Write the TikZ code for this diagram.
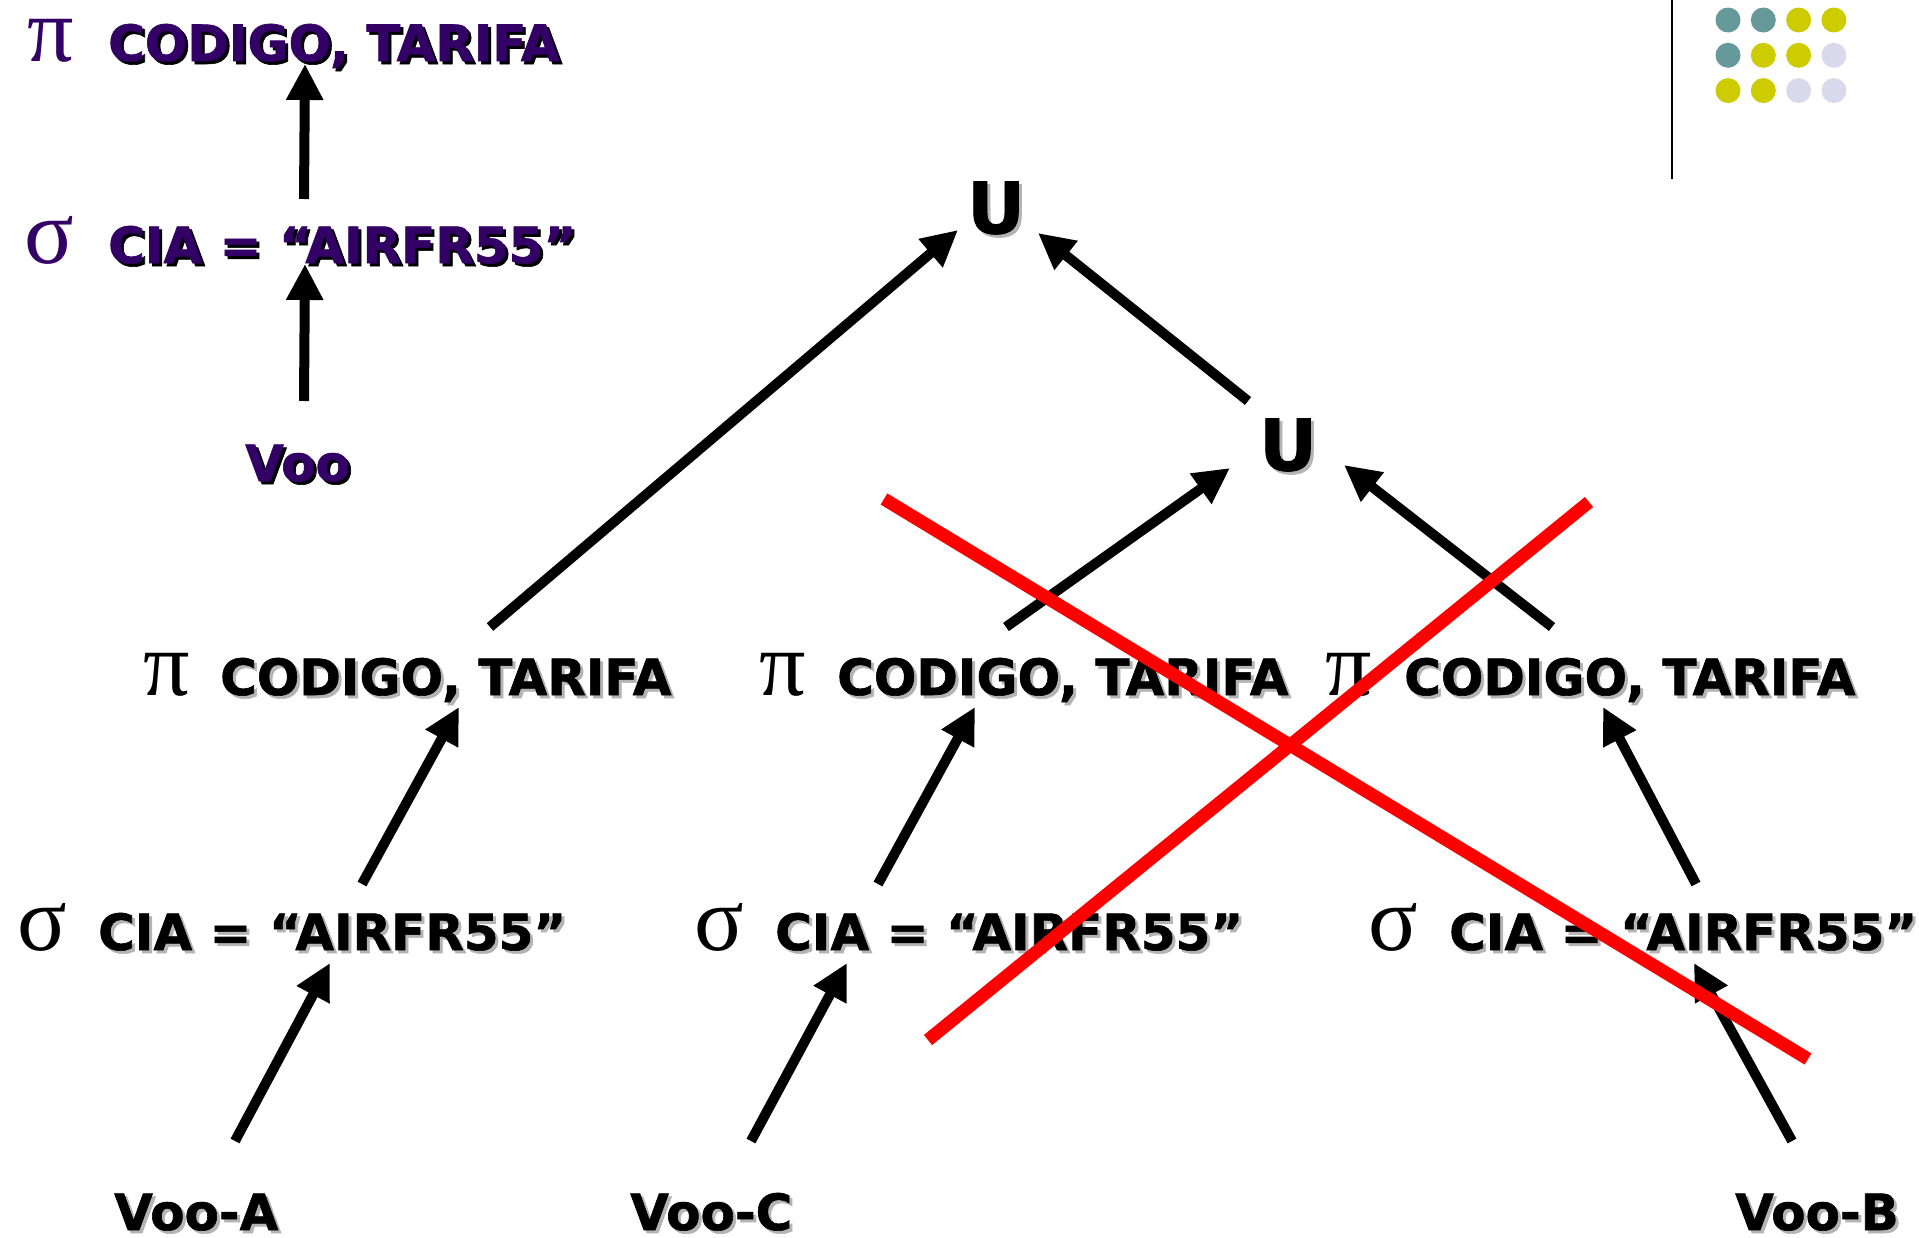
\documentclass[tikz,border=0pt]{standalone}
\usepackage{fontspec}
\setmainfont{DejaVu Sans}[BoldFeatures={FakeBold=1.2}]
\newfontfamily\greekfont{Liberation Serif}
\usetikzlibrary{arrows.meta,calc}

\definecolor{plum}{HTML}{330066}
\definecolor{shade}{HTML}{B4B4B4}
\definecolor{dotteal}{HTML}{669999}
\definecolor{dotlime}{HTML}{CCCC00}
\definecolor{dotlilac}{HTML}{D9D9EC}

% text with a drop shadow offset down and to the right
\newcommand\shadowed[2]{\rlap{\smash{\kern3pt\raisebox{-3pt}{\textcolor{#1}{#2}}}}#2}

\tikzset{
  lbl/.style={inner sep=0pt, anchor=base west, font=\bfseries\fontsize{50}{60}\selectfont},
  grk/.style={inner sep=0pt, anchor=base west, text height=44pt, text depth=0pt,
              font=\greekfont\fontsize{92}{100}\selectfont},
  unionop/.style={inner sep=0pt, font=\bfseries\fontsize{71}{80}\selectfont},
  arr/.style={line width=10pt, -{Triangle[length=36pt,width=35pt]}},
  cross/.style={draw=red, line width=13pt},
}

\begin{document}
\begin{tikzpicture}[x=1pt, y=-1pt]
\useasboundingbox (0,0) rectangle (1919,1237);

% ---- single-relation plan (top left) ----
\node[grk, text=plum] (g1) at (27,61) {π};
\node[lbl, text=plum] (t1) at (108,61) {\shadowed{black}{CODIGO, TARIFA}};
\node[grk, text=plum] (g2) at (24,263) {σ};
\node[lbl, text=plum] (t2) at (108,263) {\shadowed{black}{CIA = “AIRFR55”}};
\node[lbl, text=plum] (t3) at (245,481) {\shadowed{black}{Voo}};

\draw[arr] ($(t3.base west)+(59,-80)$) -- ($(t2.base west)+(197,1)$);
\draw[arr] ($(t2.base west)+(196,-64)$) -- ($(t1.base west)+(197,3)$);

% ---- union operators ----
\node[unionop] (u1) at (996,208) {\shadowed{shade}{U}};
\node[unionop] (u2) at (1288,445) {\shadowed{shade}{U}};

% ---- projections ----
\node[grk] (gpL) at (143,695) {π};
\node[lbl] (pL) at (220,695) {\shadowed{shade}{CODIGO, TARIFA}};
\node[grk] (gpM) at (759,695) {π};
\node[lbl] (pM) at (837,695) {\shadowed{shade}{CODIGO, TARIFA}};
\node[grk] (gpR) at (1325,695) {π};
\node[lbl] (pR) at (1404,695) {\shadowed{shade}{CODIGO, TARIFA}};

% ---- selections ----
\node[grk] (gsL) at (17,950) {σ};
\node[lbl] (sL) at (98,950) {\shadowed{shade}{CIA = “AIRFR55”}};
\node[grk] (gsM) at (694,950) {σ};
\node[lbl] (sM) at (775,950) {\shadowed{shade}{CIA = “AIRFR55”}};
\node[grk] (gsR) at (1368,950) {σ};
\node[lbl] (sR) at (1449,950) {\shadowed{shade}{CIA = “AIRFR55”}};

% ---- fragments ----
\node[lbl] (vA) at (114,1230) {\shadowed{shade}{Voo-A}};
\node[lbl] (vC) at (630,1230) {\shadowed{shade}{Voo-C}};
\node[lbl] (vB) at (1735,1230) {\shadowed{shade}{Voo-B}};

% ---- edges ----
\draw[arr] ($(vA.base west)+(121,-89)$) -- ($(sL.base west)+(232,13)$);
\draw[arr] ($(sL.base west)+(264,-66)$) -- ($(pL.base west)+(239,12)$);
\draw[arr] ($(vC.base west)+(121,-89)$) -- ($(sM.base west)+(72,13)$);
\draw[arr] ($(sM.base west)+(103,-66)$) -- ($(pM.base west)+(138,12)$);
\draw[arr] ($(vB.base west)+(57,-89)$) -- ($(sR.base west)+(245,13)$);
\draw[arr] ($(sR.base west)+(247,-66)$) -- ($(pR.base west)+(199,12)$);
\draw[arr] ($(pL.base west)+(270,-68)$) -- ($(u1)+(-38,22)$);
\draw[arr] ($(pM.base west)+(169,-68)$) -- ($(u2)+(-58,23)$);
\draw[arr] ($(pR.base west)+(148,-68)$) -- ($(u2)+(56,20)$);
\draw[arr] ($(u2)+(-40,-44)$) -- ($(u1)+(42,25)$);

% ---- crossed-out branch ----
\draw[cross] (884,499) -- (1808,1059);
\draw[cross] (928,1040) -- (1589,502);

% ---- corner decoration ----
\draw[line width=2.5pt] (1672,0) -- (1672,179);
\foreach \c [count=\i from 0] in {dotteal,dotteal,dotlime,dotlime,
                                  dotteal,dotlime,dotlime,dotlilac,
                                  dotlime,dotlime,dotlilac,dotlilac}{
  \pgfmathtruncatemacro\col{mod(\i,4)}
  \pgfmathtruncatemacro\row{div(\i,4)}
  \fill[\c] ({1728+35.3*\col},{20+35.3*\row}) circle[radius=12.5];
}
\end{tikzpicture}
\end{document}
